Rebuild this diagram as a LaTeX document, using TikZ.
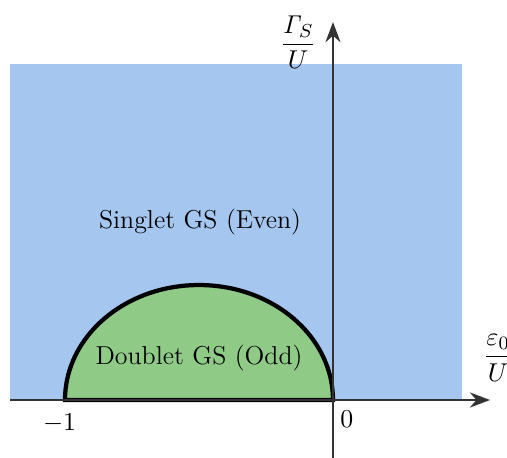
\documentclass[tikz,border=0pt]{standalone}
\usepackage{amsmath}
\usetikzlibrary{calc, positioning}
\usetikzlibrary{arrows.meta}
\definecolor{evenblue}{RGB}{165,198,238}
\definecolor{oddgreen}{RGB}{143,203,135}
\definecolor{axisgray}{RGB}{51,51,51}
\begin{document}
\begin{tikzpicture}[scale=4, every node/.style={font=\fontsize{11}{13}\selectfont}]
\useasboundingbox (-1.2425,-0.2127) rectangle (0.6493,1.4925);
\def\domeb{0.429}
\coordinate (O) at (0,0);
\coordinate (L) at (-1,0);
\coordinate (X0) at (-1.205,0);
\coordinate (X) at (0.586,0);
\coordinate (Y0) at (0,-0.22);
\coordinate (Y) at (0,1.41);

% phase regions
\fill[evenblue] (-1.205,0) rectangle (0.481,1.254);
\filldraw[fill=oddgreen, draw=black, line width=1.8pt]
  (L) arc[start angle=180, end angle=0, x radius=0.5, y radius=\domeb] -- cycle;

% axes
\draw[axisgray, line width=1pt, -{Stealth[length=3mm]}] (X0) -- (X);
\draw[axisgray, line width=1pt, -{Stealth[length=3mm]}] (Y0) -- (Y);

\node (ylab) at (-0.13,1.336) {$\dfrac{\mathit{\Gamma}_S}{U}$};
\node (xlab) at (0.616,0.157) {$\dfrac{\varepsilon_0}{U}$};
\node (even) at (-0.496,0.664) {Singlet GS (Even)};
\node (odd) at (-0.5,0.157) {Doublet GS (Odd)};
\node (m1) at (-1.02,-0.086) {$-1$};
\node (zero) at (0.052,-0.07) {$0$};
\end{tikzpicture}
\end{document}
